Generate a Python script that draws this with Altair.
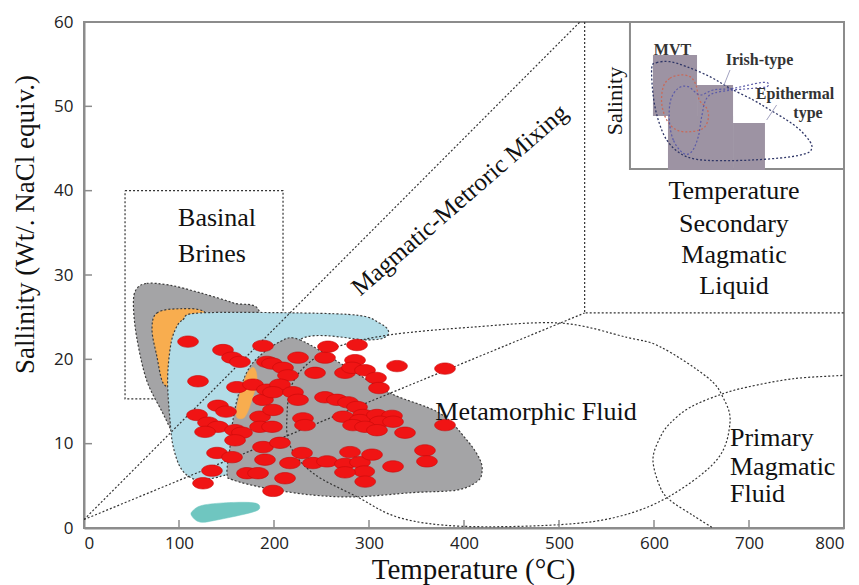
import altair as alt
import pandas as pd

W, H = 760, 506

# ---------------- axis values ----------------
x_ticks = [0, 100, 200, 300, 400, 500, 600, 700, 800]
y_ticks = [0, 10, 20, 30, 40, 50, 60]

# ---------------- fluid inclusion data (red ellipses) ----------------
incl_T = [109.5, 146.3, 155.8, 164.2, 188.4, 120.0, 161.0, 177.9, 188.4, 192.6,
          141.0, 149.5, 119.0, 130.5, 141.0, 127.4, 159.0, 166.3, 159.0, 185.3,
          185.3, 188.4, 140.0, 155.8, 134.7, 171.6, 183.2, 125.3, 190.5, 199.0,
          192.6, 197.9, 209.5, 214.7, 225.3, 253.7, 256.8, 287.4, 243.2, 274.7,
          285.3, 282.1, 295.8, 307.4, 310.5, 206.3, 198.9, 220.0, 225.3, 253.7,
          266.3, 277.9, 287.4, 198.9, 293.7, 230.5, 197.9, 232.6, 272.6, 290.5,
          283.2, 206.3, 229.5, 216.8, 241.0, 255.8, 274.7, 280.0, 290.5, 295.0,
          211.6, 274.7, 296.0, 329.5, 380.0, 308.4, 324.2, 311.6, 325.3, 295.8,
          308.4, 337.9, 380.0, 358.9, 361.0, 325.3, 303.2]
incl_S = [22.1, 21.1, 20.2, 19.7, 21.6, 17.4, 16.7, 17.0, 15.2, 16.4,
          14.5, 13.8, 13.4, 12.5, 12.0, 11.4, 11.6, 11.3, 10.4, 13.2,
          12.0, 9.6, 8.9, 8.4, 6.8, 6.5, 6.5, 5.3, 8.1, 4.4,
          19.7, 19.5, 19.0, 18.1, 20.2, 20.2, 21.5, 21.7, 18.4, 18.4,
          19.9, 19.0, 18.7, 17.8, 16.6, 17.0, 16.1, 16.1, 15.2, 15.5,
          15.2, 14.9, 14.35, 14.0, 13.4, 13.0, 12.0, 12.2, 13.2, 12.8,
          12.2, 10.1, 8.9, 7.7, 7.7, 7.9, 7.6, 9.0, 7.8, 6.7,
          5.9, 6.6, 5.5, 19.2, 18.9, 13.4, 13.3, 12.6, 12.6, 12.0,
          11.6, 11.3, 12.2, 9.2, 7.9, 7.3, 8.7]

# ---------------- field outlines (T, S) ----------------
gray_left_T = [55, 66, 90, 122, 157, 185, 175, 150, 110, 95, 83, 66, 55.5, 52]
gray_left_S = [28.3, 29.0, 28.8, 27.9, 26.7, 25.5, 18, 12, 7, 10.8, 13.6, 17.5, 22.6, 26.5]

orange_T = [71.6, 76.8, 101, 127, 135, 115, 95, 88.4, 82, 76.8]
orange_S = [23.5, 25.5, 26.0, 25.6, 23, 19, 16.8, 16.7, 17.5, 20.3]

blue_T = [96, 104, 122, 227, 290, 311, 320, 318, 300, 227, 215, 200, 150, 140, 119, 103, 94, 90.5, 88, 91]
blue_S = [23.5, 24.7, 25.5, 25.5, 25.2, 24.3, 23.5, 22.7, 22.3, 22.3, 15, 7.5, 6.3, 6.0, 5.7, 6.9, 9.6, 12.8, 17.5, 21.5]

gray_mid_T = [206.3, 227.4, 274.7, 322.1, 374.7, 403.2, 416.8, 418.9, 413.7, 392.6,
              346.3, 287.4, 241.1, 192.6, 156.8, 150.5, 153.7, 156.8, 164.2, 177.9]
gray_mid_S = [22.1, 22.3, 19.2, 16.0, 13.6, 10.4, 8.1, 6.6, 5.5, 4.5,
              4.2, 3.7, 3.9, 4.7, 5.7, 6.5, 9.6, 12.8, 16.4, 19.6]

sliver_T = [179, 182.1, 176.8, 169.5, 161, 161, 166.3, 172.6]
sliver_S = [19.0, 17.6, 15.2, 13.2, 13.1, 14.4, 16.7, 18.5]

teal_T = [115, 125, 150, 178, 185, 178, 140, 122, 113]
teal_S = [2.1, 2.7, 3.0, 3.0, 2.5, 1.9, 0.95, 0.7, 1.5]

meta_T = [213.7, 218.9, 237.9, 269.5, 322.1, 406.3, 501.1, 571.6, 606.3, 655.8, 672.6,
          680.0, 666.3, 616.8, 564.2, 501.1, 398.9, 332.6, 287.4, 241.1, 216.8]
meta_S = [13.4, 17.0, 19.7, 21.6, 22.9, 23.8, 24.3, 22.6, 21.5, 17.9, 15.5,
          12.5, 8.1, 3.8, 1.4, 0.4, 0.2, 1.2, 3.7, 6.5, 9.8]

prim_T = [800, 798.9, 746.3, 697.9, 669.5, 637.9, 616.8, 606.3, 598.9, 606.3, 616.8, 641, 662.1]
prim_S = [18.2, 18.1, 17.7, 16.7, 15.8, 14.3, 12.4, 10.7, 8.1, 4.9, 3.3, 1.5, 0.0]

mix_T = [0, 522]
mix_S = [1, 60]
mix2_T = [0, 527]
mix2_S = [1, 25.5]
sec_T = [527, 527, 800]
sec_S = [60, 25.5, 25.5]
brine_T = [43.2, 209.5, 209.5, 43.2, 43.2]
brine_S = [40, 40, 15.3, 15.3, 40]

# ---------------- inset ----------------
inset_T = [574.7]
inset_T2 = [800]
inset_S = [42.57]
inset_S2 = [60]

box_T1 = [598.9, 614.7, 645.3, 683.2]
box_T2 = [645.3, 683.2, 683.2, 716.8]
box_S1 = [48.86, 42.45, 45.77, 42.45]
box_S2 = [56.09, 48.86, 52.53, 48.03]

epi_T = [597.6, 602.8, 616.8, 634.4, 658.9, 680.0, 704.5, 722.1, 739.7, 753.7, 764.2,
         766.0, 760.7, 739.7, 704.5, 669.5, 645.0, 627.4, 613.4, 604.5, 599.3]
epi_S = [54.51, 55.18, 55.29, 54.70, 53.52, 52.14, 50.75, 49.57, 48.38, 47.19, 45.81,
         45.03, 44.43, 43.96, 43.64, 43.56, 43.72, 44.43, 46.01, 48.38, 51.14]

mvt_T = [609.8, 616.8, 627.4, 637.9, 644.2, 647.7, 655.5, 657.2, 651.9, 637.9, 623.9, 613.4, 608.1]
mvt_S = [52.33, 53.33, 53.72, 53.52, 52.53, 50.75, 49.77, 48.58, 47.40, 46.99, 47.19, 48.38, 50.36]

irish_T = [630.8, 620.3, 616.1, 617.6, 625.6, 636.1, 648.4, 662.4, 683.5, 711.6, 720.3,
           718.6, 704.5, 669.5, 655.5, 650.2, 646.6, 639.7]
irish_S = [44.43, 46.01, 48.38, 50.75, 52.14, 52.33, 51.35, 51.94, 52.14, 52.80, 52.73,
           52.33, 52.14, 51.74, 50.96, 48.77, 46.40, 44.62]

lead1_T = [680, 673]
lead1_S = [54.31, 52.33]
lead2_T = [729.1, 718.6]
lead2_S = [50.16, 48.38]

# ---------------- labels ----------------
lab_main = pd.DataFrame({
    "T": [99, 99, 475.8, 684.2, 684.2, 684.2, 684.2],
    "S": [36.76, 32.5, 13.8, 39.96, 36.05, 32.37, 28.7],
    "label": ["Basinal", "Brines", "Metamorphic Fluid", "Temperature", "Secondary", "Magmatic", "Liquid"],
    "align": ["left", "left", "center", "center", "center", "center", "center"],
})
prim_lab = pd.DataFrame({"T": [680, 680, 680], "S": [10.7, 7.2, 4.0],
                         "label": ["Primary", "Magmatic", "Fluid"]})
mix_lab = pd.DataFrame({"T": [395.3], "S": [38.9], "label": ["Magmatic-Metroric Mixing"]})
inset_lab = pd.DataFrame({"T": [619.5, 711.1, 748.4, 762.1], "S": [56.68, 55.5, 51.46, 49.21],
                          "label": ["MVT", "Irish-type", "Epithermal", "type"]})
sal_lab = pd.DataFrame({"T": [558.9], "S": [50.63], "label": ["Salinity"]})

# ---------------- helpers ----------------
XS = alt.Scale(domain=[0, 800], nice=False, zero=False)
YS = alt.Scale(domain=[0, 60], nice=False, zero=False)
SERIF = "Liberation Serif"
DOT = [2, 2]
OUTLINE = "#3c3c3c"

XAX = alt.Axis(
    values=x_ticks, title="Temperature (°C)", grid=False, tickSize=0,
    labelFont="Open Sans", labelFontSize=17, labelColor="#222", labelPadding=7,
    domainColor="#8c8c8c", domainWidth=2,
    titleFont=SERIF, titleFontSize=29, titleFontWeight="normal", titleColor="#111",
    titleX=389, titleY=50, titleBaseline="alphabetic")
YAX = alt.Axis(
    values=y_ticks, title="Sallinity (Wt/. NaCl equiv.)", grid=False, tickSize=0,
    labelFont="Open Sans", labelFontSize=17, labelColor="#222", labelPadding=11,
    domainColor="#8c8c8c", domainWidth=2,
    titleFont=SERIF, titleFontSize=27, titleFontWeight="normal", titleColor="#111",
    titleAngle=270, titleX=-51, titleY=202, titleBaseline="alphabetic")


def X():
    return alt.X("T:Q", scale=XS, axis=XAX)


def Y():
    return alt.Y("S:Q", scale=YS, axis=YAX)


def df(T, S):
    return pd.DataFrame({"T": T, "S": S, "i": list(range(len(T)))})


def enc(ch):
    return ch.encode(x=X(), y=Y(), order="i:Q")


def poly(T, S, fill, stroke=OUTLINE, sw=1.2, dash=DOT, interp="cardinal-closed"):
    kw = dict(interpolate=interp, fill=fill, stroke=stroke, strokeWidth=sw, clip=True)
    if dash:
        kw["strokeDash"] = dash
    return enc(alt.Chart(df(T, S)).mark_line(**kw))


def dline(T, S, interp="linear", color="#333", sw=1.2):
    return enc(alt.Chart(df(T, S)).mark_line(interpolate=interp, color=color, strokeWidth=sw,
                                             strokeDash=DOT, clip=True))


def text_layer(d, **kw):
    return alt.Chart(d).mark_text(**kw).encode(x=X(), y=Y(), text="label:N")


layers = []
layers.append(dline(brine_T, brine_S))
layers.append(poly(gray_left_T, gray_left_S, "#a4a4a6"))
layers.append(poly(orange_T, orange_S, "#f8ad4f"))
layers.append(poly(blue_T, blue_S, "#b2dce7"))
layers.append(poly(gray_mid_T, gray_mid_S, "#a4a4a6"))
layers.append(poly(sliver_T, sliver_S, "#f8ad4f", stroke="#f8ad4f", sw=0.5, dash=None))
layers.append(poly(teal_T, teal_S, "#6fc6c0", stroke="#6fc6c0", sw=0.5, dash=None))
layers.append(dline(mix_T, mix_S))
layers.append(dline(mix2_T, mix2_S))
layers.append(dline(sec_T, sec_S))
layers.append(dline(meta_T, meta_S, interp="cardinal-closed"))
layers.append(dline(prim_T, prim_S, interp="cardinal"))

# inclusions
layers.append(alt.Chart(pd.DataFrame({"T": incl_T, "S": incl_S})).mark_point(
    shape="M-1,0A1,0.55,0,1,1,1,0A1,0.55,0,1,1,-1,0Z", size=430, filled=True,
    color="#f01414", stroke="#c80a0a", strokeWidth=0.6, opacity=1, clip=True
).encode(x=X(), y=Y()))

# inset
layers.append(alt.Chart(pd.DataFrame({"T": inset_T, "T2": inset_T2, "S": inset_S, "S2": inset_S2})).mark_rect(
    fill="white", stroke="#8c8c8c", strokeWidth=2
).encode(x=X(), x2="T2:Q", y=Y(), y2="S2:Q"))
layers.append(alt.Chart(pd.DataFrame({"T": box_T1, "T2": box_T2, "S": box_S1, "S2": box_S2})).mark_rect(
    fill="#9d93a3", opacity=1
).encode(x=X(), x2="T2:Q", y=Y(), y2="S2:Q"))
layers.append(dline(epi_T, epi_S, interp="cardinal-closed", color="#2e3566", sw=1.3))
layers.append(dline(mvt_T, mvt_S, interp="cardinal-closed", color="#c86a5a", sw=1.3))
layers.append(dline(irish_T, irish_S, interp="cardinal-closed", color="#5a5aa8", sw=1.2))
layers.append(enc(alt.Chart(df(lead1_T, lead1_S)).mark_line(color="#8a8ab0", strokeWidth=0.8)))
layers.append(enc(alt.Chart(df(lead2_T, lead2_S)).mark_line(color="#8a8ab0", strokeWidth=0.8)))

# texts
for al in ["left", "center"]:
    sub = lab_main[lab_main["align"] == al]
    layers.append(text_layer(sub, font=SERIF, fontSize=26, color="#111", align=al, baseline="middle"))
layers.append(text_layer(prim_lab, font=SERIF, fontSize=26, color="#111", align="left", baseline="middle"))
layers.append(text_layer(mix_lab, font=SERIF, fontSize=25, color="#111", align="center",
                         baseline="middle", angle=319))
layers.append(text_layer(inset_lab, font=SERIF, fontSize=16, fontWeight="bold", color="#333",
                         align="center", baseline="middle"))
layers.append(text_layer(sal_lab, font=SERIF, fontSize=22, color="#111", align="center",
                         baseline="middle", angle=270))

# inward ticks
layers.append(alt.Chart(pd.DataFrame({"T": x_ticks})).mark_rule(color="#8c8c8c", strokeWidth=1.5).encode(
    x=X(), y=alt.value(H), y2=alt.value(H - 8)))
layers.append(alt.Chart(pd.DataFrame({"S": y_ticks})).mark_rule(color="#8c8c8c", strokeWidth=1.5).encode(
    y=Y(), x=alt.value(0), x2=alt.value(8)))

chart = alt.layer(*layers).properties(
    width=W, height=H,
    autosize=alt.AutoSizeParams(type="none"),
    padding={"left": 84, "top": 22, "right": 15, "bottom": 57},
    background="white",
).configure_view(stroke="#8c8c8c", strokeWidth=2)

chart.save("out.html", embed_options={"renderer": "svg", "actions": False})
